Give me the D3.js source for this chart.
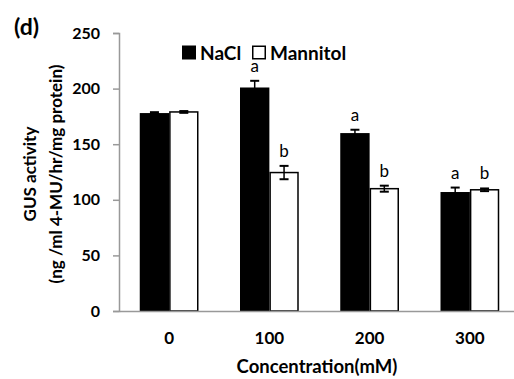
<!DOCTYPE html>
<html>
<head>
<meta charset="utf-8">
<script src="https://cdn.jsdelivr.net/npm/d3@7"></script>
<style>
  body { margin: 0; background: #fff; }
  text { font-family: Lato, "Open Sans", sans-serif; }
</style>
</head>
<body>
<div id="chart"></div>
<script>
const categories = ["0", "100", "200", "300"];
const seriesNames = ["NaCl", "Mannitol"];
const naclValues = [178, 201, 160, 107];
const naclErrors = [0.8, 6, 3, 4];
const mannitolValues = [179, 124.5, 110, 109];
const mannitolErrors = [0.8, 6, 2.7, 1.2];
const naclLetters = ["", "a", "a", "a"];
const mannitolLetters = ["", "b", "b", "b"];
const yTicks = [0, 50, 100, 150, 200, 250];

const W = 514, H = 379;
const margin = { top: 33, right: -6, bottom: 68, left: 119 };
const width = W - margin.left - margin.right,
  height = H - margin.top - margin.bottom;

const svg = d3.select("#chart")
  .append("svg")
  .attr("width", W)
  .attr("height", H);

const g = svg.append("g")
  .attr("transform", "translate(" + margin.left + "," + margin.top + ")");

const x = d3.scaleBand()
  .domain(categories)
  .range([0, width])
  .paddingInner(0.414)
  .paddingOuter(0.207);

const xs = d3.scaleBand()
  .domain(seriesNames)
  .range([0, x.bandwidth()]);

const y = d3.scaleLinear()
  .domain([0, 250])
  .range([height, 0]);

// y axis
const yAxis = g.append("g")
  .call(d3.axisLeft(y).tickValues(yTicks).tickSize(6).tickPadding(13));
yAxis.select(".domain").attr("stroke", "#999").attr("stroke-width", 1.5);
yAxis.selectAll(".tick line").attr("stroke", "#999").attr("stroke-width", 1.5);
yAxis.selectAll(".tick text")
  .attr("font-size", 16).attr("font-weight", "bold").attr("fill", "#000")
  .attr("font-family", "Lato, sans-serif");

const data = categories.map((c, i) => ({
  cat: c,
  items: [
    { s: "NaCl", v: naclValues[i], e: naclErrors[i], l: naclLetters[i] },
    { s: "Mannitol", v: mannitolValues[i], e: mannitolErrors[i], l: mannitolLetters[i] }
  ]
}));

const groups = g.selectAll(".grp")
  .data(data)
  .enter()
  .append("g")
  .attr("transform", d => "translate(" + x(d.cat) + ",0)");

groups.selectAll("rect")
  .data(d => d.items)
  .enter()
  .append("rect")
  .attr("x", d => xs(d.s) + (d.s === "Mannitol" ? 0.75 : 0))
  .attr("y", d => y(d.v))
  .attr("width", d => xs.bandwidth() - (d.s === "Mannitol" ? 1.5 : 0))
  .attr("height", d => height - y(d.v))
  .attr("fill", d => d.s === "NaCl" ? "#000" : "#fff")
  .attr("stroke", d => d.s === "NaCl" ? "none" : "#000")
  .attr("stroke-width", 1.5);

// error bars
const err = groups.selectAll(".err")
  .data(d => d.items)
  .enter()
  .append("g")
  .attr("transform", d => "translate(" + (xs(d.s) + xs.bandwidth() / 2) + ",0)");
err.append("line")
  .attr("y1", d => y(d.v + d.e)).attr("y2", d => y(d.v - d.e))
  .attr("stroke", "#000").attr("stroke-width", 1.5);
err.selectAll(".cap")
  .data(d => [d.v + d.e, d.v - d.e])
  .enter()
  .append("line")
  .attr("x1", -4.5).attr("x2", 4.5)
  .attr("y1", d => y(d)).attr("y2", d => y(d))
  .attr("stroke", "#000").attr("stroke-width", 2);

// letters
groups.selectAll(".lbl")
  .data(d => d.items)
  .enter()
  .append("text")
  .attr("x", d => xs(d.s) + xs.bandwidth() / 2)
  .attr("y", d => y(d.v + d.e) - 9)
  .attr("text-anchor", "middle")
  .attr("font-size", 17)
  .attr("fill", "#000")
  .text(d => d.l);

// x axis
const xAxis = g.append("g")
  .attr("transform", "translate(0," + height + ")")
  .call(d3.axisBottom(x).tickSize(0).tickPadding(21));
xAxis.select(".domain").attr("stroke", "#999").attr("stroke-width", 1.5);
xAxis.selectAll(".tick text")
  .attr("font-size", 17).attr("font-weight", "bold").attr("fill", "#000")
  .attr("font-family", "Lato, sans-serif");

// axis titles
svg.append("text")
  .attr("x", 317).attr("y", 373)
  .attr("text-anchor", "middle")
  .attr("font-size", 18.5).attr("font-weight", "bold")
  .text("Concentration(mM)");

const yt = svg.append("text")
  .attr("transform", "translate(0,174) rotate(-90)")
  .attr("text-anchor", "middle")
  .attr("font-size", 17).attr("font-weight", "bold");
yt.append("tspan").attr("x", 0).attr("y", 36).text("GUS activity");
yt.append("tspan").attr("x", 0).attr("y", 62).text("(ng /ml 4-MU/hr/mg protein)");

// panel label
svg.append("text")
  .attr("x", 14).attr("y", 35)
  .attr("font-size", 23).attr("font-weight", "bold")
  .text("(d)");

// legend
const legend = svg.append("g").attr("transform", "translate(182,45.5)");
const legX = [0, 70];
seriesNames.forEach((s, i) => {
  legend.append("rect")
    .attr("x", legX[i] + (i ? 0.75 : 0)).attr("y", i ? 0.75 : 0)
    .attr("width", i ? 12.5 : 14).attr("height", i ? 12.5 : 14)
    .attr("fill", i ? "#fff" : "#000")
    .attr("stroke", i ? "#000" : "none").attr("stroke-width", 1.5);
  legend.append("text")
    .attr("x", legX[i] + 18).attr("y", 14)
    .attr("font-size", 19).attr("font-weight", "bold")
    .text(s);
});
</script>
</body>
</html>
